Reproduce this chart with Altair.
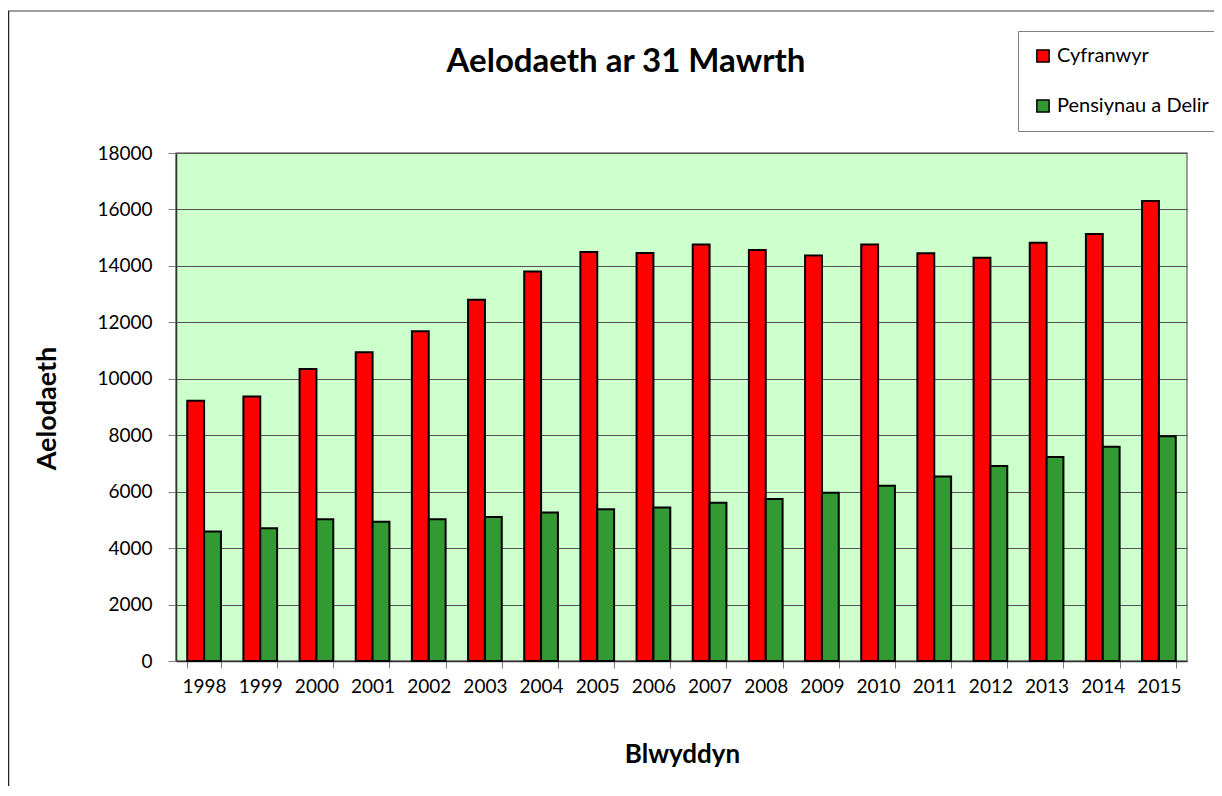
import altair as alt
import pandas as pd

years = [str(y) for y in range(1998, 2016)]
cyfranwyr = [9220, 9370, 10350, 10940, 11680, 12800, 13800, 14490, 14460,
             14760, 14560, 14370, 14760, 14450, 14290, 14820, 15130, 16300]
pensiynau = [4590, 4700, 5020, 4930, 5020, 5100, 5260, 5380, 5440,
             5610, 5740, 5960, 6210, 6540, 6910, 7230, 7590, 7960]
series_names = ["Cyfranwyr", "Pensiynau a Delir"]
series_colors = ["#FF0000", "#339933"]
y_ticks = list(range(0, 18001, 2000))
chart_title = "Aelodaeth ar 31 Mawrth"

rows = []
for i, yr in enumerate(years):
    rows.append({"year": yr, "series": series_names[0], "value": cyfranwyr[i]})
    rows.append({"year": yr, "series": series_names[1], "value": pensiynau[i]})
df = pd.DataFrame(rows)

FONT = "Lato"
W, H = 1011, 508

bars = alt.Chart(df).mark_bar(stroke="black", strokeWidth=2).encode(
    x=alt.X("year:N", sort=years,
            scale=alt.Scale(paddingInner=0.4, paddingOuter=0.2),
            axis=alt.Axis(title="Blwyddyn", labelAngle=0, tickBand="extent",
                          labelFontSize=19, labelFont=FONT, labelColor="black",
                          labelPadding=9, tickSize=7, tickColor="#808080",
                          domainColor="#333333", domainWidth=1.5,
                          titleFontSize=26, titleFont=FONT, titleFontWeight="bold",
                          titleColor="black", titleX=506, titleY=93,
                          titleBaseline="middle", titleAlign="center")),
    xOffset=alt.XOffset("series:N", sort=series_names,
                        scale=alt.Scale(paddingInner=0, paddingOuter=0)),
    y=alt.Y("value:Q",
            scale=alt.Scale(domain=[0, 18000], nice=False),
            axis=alt.Axis(title="Aelodaeth", values=y_ticks, format="d",
                          labelFontSize=19, labelFont=FONT, labelColor="black",
                          labelPadding=16, tickSize=8, tickColor="#808080",
                          domainColor="#333333", domainWidth=1.5,
                          gridColor="#555555", gridWidth=1,
                          titleFontSize=27, titleFont=FONT, titleFontWeight="bold",
                          titleColor="black", titleX=-129, titleY=255,
                          titleBaseline="middle", titleAlign="center", titleAngle=-90)),
    color=alt.Color("series:N", sort=series_names,
                    scale=alt.Scale(domain=series_names, range=series_colors),
                    legend=alt.Legend(title=None, orient="none", legendX=842, legendY=-122,
                                      direction="vertical", fillColor="white",
                                      strokeColor="#808080", padding=15, rowPadding=30,
                                      symbolType="square", symbolSize=150,
                                      symbolStrokeColor="black", symbolStrokeWidth=1.5,
                                      symbolOpacity=1, labelFontSize=20, labelFont=FONT,
                                      labelColor="black", labelOffset=4)),
)

one = pd.DataFrame({"a": [0]})
title_text = alt.Chart(one).mark_text(
    font=FONT, fontSize=33, fontWeight="bold", color="black",
    align="center", baseline="middle"
).encode(x=alt.value(450), y=alt.value(-91), text=alt.value(chart_title))

top_border = alt.Chart(one).mark_rule(color="#808080", strokeWidth=1.5).encode(
    x=alt.value(-168), x2=alt.value(1040), y=alt.value(-142))
left_border = alt.Chart(one).mark_rule(color="#222222", strokeWidth=1.5).encode(
    x=alt.value(-167.5), y=alt.value(-142), y2=alt.value(640))

chart = alt.layer(bars, title_text, top_border, left_border).properties(
    width=W, height=H,
    autosize=alt.AutoSizeParams(type="none"),
    padding={"left": 168, "top": 145, "right": 27, "bottom": 125},
    background="white",
).configure_view(
    fill="#CCFFCC", stroke="#808080", strokeWidth=1.5
)

chart.save("out.html", embed_options={"renderer": "svg", "actions": False})
